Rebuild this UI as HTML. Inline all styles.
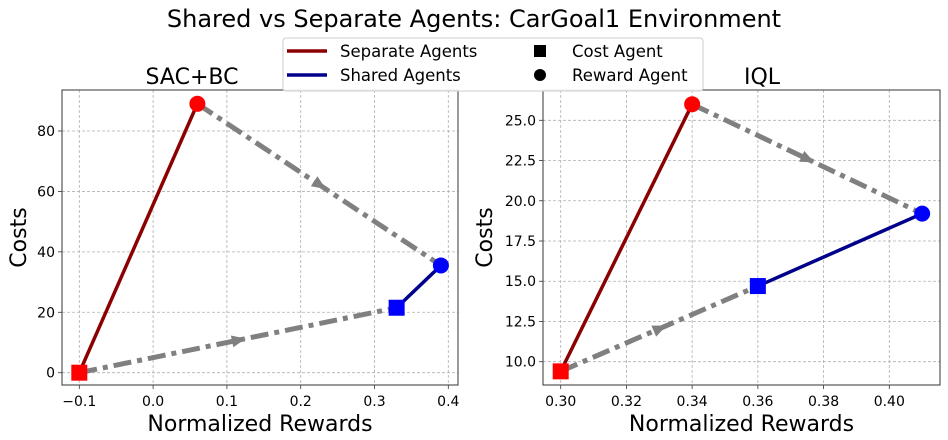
<!DOCTYPE html>
<html><head><meta charset="utf-8"><style>
html,body{margin:0;padding:0;background:#fff;}
svg{display:block;font-family:"DejaVu Sans","Liberation Sans",sans-serif;}
</style></head><body>
<svg id="chart" width="948" height="440">
<text x="474" y="27" text-anchor="middle" font-size="24">Shared vs Separate Agents: CarGoal1 Environment</text>
</svg>
<script>
const panelTitles = ["SAC+BC", "IQL"];
const sepCostX = [-0.1, 0.30];
const sepCostY = [0, 9.4];
const sepRewardX = [0.06, 0.34];
const sepRewardY = [89, 26.0];
const sharedCostX = [0.33, 0.36];
const sharedCostY = [21.5, 14.7];
const sharedRewardX = [0.39, 0.41];
const sharedRewardY = [35.5, 19.2];
const xTicks0 = [-0.1, 0.0, 0.1, 0.2, 0.3, 0.4];
const xTickLabels0 = ["\u22120.1", "0.0", "0.1", "0.2", "0.3", "0.4"];
const yTicks0 = [0, 20, 40, 60, 80];
const yTickLabels0 = ["0", "20", "40", "60", "80"];
const xTicks1 = [0.30, 0.32, 0.34, 0.36, 0.38, 0.40];
const xTickLabels1 = ["0.30", "0.32", "0.34", "0.36", "0.38", "0.40"];
const yTicks1 = [10, 12.5, 15, 17.5, 20, 22.5, 25];
const yTickLabels1 = ["10.0", "12.5", "15.0", "17.5", "20.0", "22.5", "25.0"];

const NS = "http://www.w3.org/2000/svg";
const svg = document.getElementById("chart");
function mk(tag, attrs, parent) {
  const e = document.createElementNS(NS, tag);
  for (const k in attrs) e.setAttribute(k, attrs[k]);
  (parent || svg).appendChild(e);
  return e;
}
const panels = [
  {left:62,right:458,top:90,bottom:385, x0:-0.1,px0:79.3,x1:0.4,px1:448.3, y0:0,py0:372.7,y1:80,py1:131,
   xt:xTicks0,xl:xTickLabels0,yt:yTicks0,yl:yTickLabels0, ylabX:26, tx:192},
  {left:543,right:940,top:90,bottom:385, x0:0.30,px0:560.7,x1:0.40,px1:889.3, y0:10,py0:361.7,y1:25,py1:120.3,
   xt:xTicks1,xl:xTickLabels1,yt:yTicks1,yl:yTickLabels1, ylabX:492, tx:762}
];
panels.forEach((p, i) => {
  const sx = v => p.px0 + (v - p.x0) * (p.px1 - p.px0) / (p.x1 - p.x0);
  const sy = v => p.py0 + (v - p.y0) * (p.py1 - p.py0) / (p.y1 - p.y0);
  const g = mk("g", {});
  
  
  p.xt.forEach((v, j) => {
    const x = sx(v);
    const gl = mk("line", {x1:x,x2:x,y1:p.top,y2:p.bottom,stroke:"#b0b0b0","stroke-width":0.8,"stroke-dasharray":"3,2"}, g);
    
    
    mk("line", {x1:x,x2:x,y1:p.bottom,y2:p.bottom+4,stroke:"#333","stroke-width":0.8}, g);
    const t = mk("text", {x:x,y:p.bottom+21,"text-anchor":"middle","font-size":14}, g);
    t.textContent = p.xl[j];
    
    
  });
  p.yt.forEach((v, j) => {
    const y = sy(v);
    const gl = mk("line", {x1:p.left,x2:p.right,y1:y,y2:y,stroke:"#b0b0b0","stroke-width":0.8,"stroke-dasharray":"3,2"}, g);
    
    
    mk("line", {x1:p.left-4,x2:p.left,y1:y,y2:y,stroke:"#333","stroke-width":0.8}, g);
    const t = mk("text", {x:p.left-7,y:y+5,"text-anchor":"end","font-size":14}, g);
    t.textContent = p.yl[j];
    
    
  });
  const fr = mk("rect", {x:p.left,y:p.top,width:p.right-p.left,height:p.bottom-p.top,fill:"none",stroke:"#333","stroke-width":1}, g);
  
  
  const tt = mk("text", {x:p.tx,y:84,"text-anchor":"middle","font-size":22}, g);
  tt.textContent = panelTitles[i];
  
  
  const xl = mk("text", {x:(p.left+p.right)/2,y:p.bottom+46,"text-anchor":"middle","font-size":22}, g);
  xl.textContent = "Normalized Rewards";
  
  
  const yc = (p.top+p.bottom)/2;
  const yl = mk("text", {x:p.ylabX,y:yc,"text-anchor":"middle","font-size":22,transform:`rotate(-90 ${p.ylabX} ${yc})`}, g);
  yl.textContent = "Costs";
  
  

  function arrow(xa, ya, xb, yb, name) {
    const X1 = sx(xa), Y1 = sy(ya), X2 = sx(xb), Y2 = sy(yb);
    const ln = mk("line", {x1:X1,y1:Y1,x2:X2,y2:Y2,stroke:"#808080","stroke-width":5,"stroke-dasharray":"18,6,5,6"}, g);
    
    
    const mx = (X1+X2)/2, my = (Y1+Y2)/2;
    const ang = Math.atan2(Y2-Y1, X2-X1) * 180 / Math.PI;
    const hd = mk("path", {d:"M8,0 L-6,-6 L-6,6 Z",fill:"#808080",transform:`translate(${mx},${my}) rotate(${ang})`}, g);
    
    
  }
  arrow(sepRewardX[i], sepRewardY[i], sharedRewardX[i], sharedRewardY[i], 'reward-transition-arrow');
  arrow(sepCostX[i], sepCostY[i], sharedCostX[i], sharedCostY[i], 'cost-transition-arrow');
  const sl = mk("line", {x1:sx(sepCostX[i]),y1:sy(sepCostY[i]),x2:sx(sepRewardX[i]),y2:sy(sepRewardY[i]),stroke:"#8b0000","stroke-width":3.5}, g);
  
  
  const hl = mk("line", {x1:sx(sharedCostX[i]),y1:sy(sharedCostY[i]),x2:sx(sharedRewardX[i]),y2:sy(sharedRewardY[i]),stroke:"#00008b","stroke-width":3.5}, g);
  
  
  function sq(x, y, c, name) {
    const r = mk("rect", {x:sx(x)-8,y:sy(y)-8,width:16,height:16,fill:c}, g);
    
    
  }
  function ci(x, y, c, name) {
    const r = mk("circle", {cx:sx(x),cy:sy(y),r:8,fill:c}, g);
    
    
  }
  sq(sepCostX[i], sepCostY[i], "#ff0000", 'separate-cost-agent-point');
  ci(sepRewardX[i], sepRewardY[i], "#ff0000", 'separate-reward-agent-point');
  sq(sharedCostX[i], sharedCostY[i], "#0000ff", 'shared-cost-agent-point');
  ci(sharedRewardX[i], sharedRewardY[i], "#0000ff", 'shared-reward-agent-point');
});

const lg = mk("g", {});


mk("rect", {x:283,y:38,width:420,height:53,rx:3,fill:"#fff","fill-opacity":0.9,stroke:"#ccc","stroke-width":1}, lg);
const entries = [
  {kind:"line",c:"#8b0000",t:"Separate Agents",x:287,y:51},
  {kind:"line",c:"#00008b",t:"Shared Agents",x:287,y:75},
  {kind:"sq",t:"Cost Agent",x:540,y:51},
  {kind:"ci",t:"Reward Agent",x:540,y:75}
];
entries.forEach(e => {
  const eg = mk("g", {}, lg);
  
  
  let tx;
  if (e.kind === "line") { mk("line", {x1:e.x,x2:e.x+40,y1:e.y,y2:e.y,stroke:e.c,"stroke-width":3.5}, eg); tx = 340; }
  else if (e.kind === "sq") { mk("rect", {x:e.x-6,y:e.y-6,width:12,height:12,fill:"#000"}, eg); tx = 572; }
  else { mk("circle", {cx:e.x,cy:e.y,r:6,fill:"#000"}, eg); tx = 572; }
  const t = mk("text", {x:tx,y:e.y+6,"font-size":16.5}, eg);
  t.textContent = e.t;
});
</script>
</body></html>
